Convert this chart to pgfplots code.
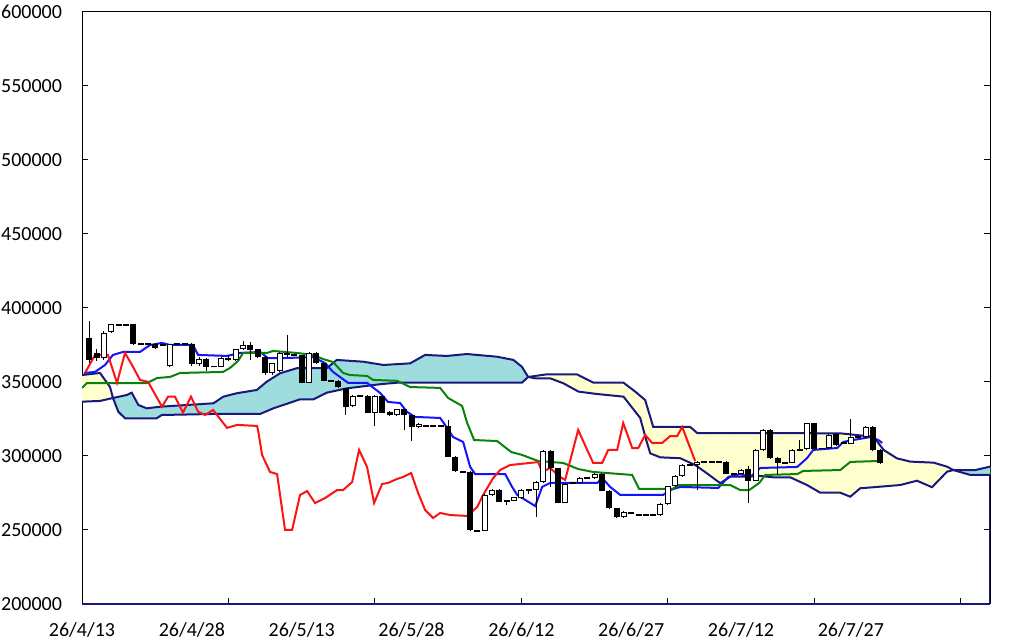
\documentclass[border=0pt]{standalone}
\usepackage{fontspec}
\setmainfont{Carlito}
\usepackage{pgfplots}
\usepackage{pgfplotstable}
\pgfplotsset{compat=1.18}
\usepgfplotslibrary{fillbetween}
\usetikzlibrary{patterns}

\definecolor{cloudY}{RGB}{255,255,204}
\definecolor{cloudT}{RGB}{158,220,222}
\definecolor{navyL}{RGB}{25,25,125}
\definecolor{tenkan}{RGB}{20,20,250}
\definecolor{kijun}{RGB}{10,130,10}
\definecolor{chikou}{RGB}{250,20,20}

\pgfplotstableread{
X O H L C
3 366200 384500 365000 383000
4 383800 389500 383000 389000
12 360800 376000 360000 375500
16 362000 367000 361000 365400
19 360400 367000 360000 366500
21 365000 372500 364500 372000
22 372000 377500 371500 375000
26 355800 363000 355000 362600
27 357600 370000 357000 369400
31 349500 370500 349000 369800
37 333800 341000 333000 340500
40 329300 341000 320000 340500
43 327700 332000 327000 331600
46 319400 322000 319000 321600
55 249500 274000 249000 273700
56 273700 277500 273000 277000
59 269800 272500 269500 272100
60 271400 277500 271000 277000
62 277000 283000 259000 282600
63 282600 304000 282000 303600
66 268400 281500 268000 281100
68 282000 285500 281500 285000
70 285000 288200 284500 287800
74 258600 262800 258200 262400
79 260000 268000 259500 267600
80 267600 280000 267200 279700
81 279700 287000 279300 286500
82 286500 294300 286000 293900
84 294000 296500 277000 296000
90 288000 291000 287500 290500
92 283300 304500 283000 304000
93 304000 318000 303500 317600
97 295500 304500 295000 304000
99 304500 322500 304000 322000
102 305200 314700 304800 314200
105 308300 324800 308000 312700
107 312700 320300 312300 319800
}\upc

\pgfplotstableread{
X O H L C
1 379900 391000 363000 364900
2 369500 372000 364500 366000
5 389100 389100 387900 387900
6 389100 389100 387900 387900
7 389000 389500 375000 375500
8 376100 376100 374900 374900
9 376100 376100 374900 374900
10 375600 376500 372500 372800
11 375600 375600 374400 374400
13 376100 376100 374900 374900
14 376100 376100 374900 374900
15 375500 376500 361000 362000
17 365400 366000 357400 360400
18 361000 361000 359800 359800
20 366500 368000 364500 365000
23 375000 377000 365000 371600
24 372000 372500 366500 367000
25 367000 367500 355000 355800
28 369400 382000 367000 368000
29 368600 368600 367400 367400
30 368200 368500 349000 349500
32 369800 370200 362000 362600
33 362600 363000 350500 350900
34 351500 351500 350300 350300
35 350900 351300 346000 346400
36 345700 346000 327700 333300
38 341100 341100 339900 339900
39 340500 341000 329000 329300
41 340500 341000 329000 329300
42 330000 330500 327300 327700
44 331600 332000 317600 327700
45 327700 328000 310300 319400
47 320900 320900 319700 319700
48 320900 320900 319700 319700
49 320900 320900 319700 319700
50 320300 324000 299000 299500
51 299500 300000 289500 290000
52 290000 290000 288800 288800
53 289400 289800 249500 250000
54 250100 250100 248900 248900
57 277000 277500 268700 269100
58 270400 270400 267000 269200
61 277600 277600 274000 276400
64 303600 304000 279300 291700
65 291700 292000 268000 268400
67 282100 282100 280900 280900
69 285600 285600 284400 284400
71 287800 288200 276200 276600
72 276600 277000 264300 264700
73 264700 265000 258200 258600
75 262300 262300 261100 261100
76 260600 260600 259400 259400
77 260600 260600 259400 259400
78 260600 260600 259400 259400
83 294600 294600 293400 293400
85 296600 296600 295400 295400
86 296600 296600 295400 295400
87 296600 296600 295400 295400
88 296000 296500 287500 287800
89 288600 288600 287400 287400
91 291000 293000 268500 283300
94 317600 318000 298000 298500
95 298500 299000 287000 295500
96 296100 296100 294900 294900
98 304600 311000 303400 303400
100 322000 322500 304000 304500
101 305600 305600 304400 304400
103 314900 315300 307000 307400
104 309200 309200 308000 308000
106 313300 313300 312100 312100
108 319800 320200 303600 304000
109 304000 304400 294600 295000
}\downc

\pgfplotstableread{
X P
0 354700
2.46 356100
3.83 346600
4.23 339200
6.11 341200
6.79 342800
7.69 334500
8.84 332200
10.66 333300
17.94 335600
19.30 340100
21.13 342400
23.87 344600
25.23 350200
27.05 355900
29.33 359300
33.43 359300
34.79 364900
38.43 363700
41.16 361500
44.81 362600
46.86 368300
49.82 367600
52.55 368900
53.92 368300
56.65 367100
58.92 364900
60.07 360300
60.93 353400
63.48 355200
67.58 355200
69.85 349500
73.95 349500
75.55 343500
76.91 337800
78.01 319600
83.06 319600
84.02 315500
92.62 315500
103.55 315300
108.10 313000
109.47 304100
111.30 298400
113.11 296200
116.30 295500
118.13 292800
118.99 290500
121.99 290500
124 292800
}\spanT

\pgfplotstableread{
X P
0 336700
2.46 337200
4.23 339200
4.96 329900
5.87 325500
10.20 325500
10.89 327700
17.94 328400
24.32 328400
26.13 332200
29.78 338300
31.60 338300
33.43 342800
36.16 345700
40.71 348500
42.99 349500
60.07 349500
60.93 353400
61.89 352500
63.93 352500
65.75 349100
67.80 343500
70.31 341900
73.95 340100
76.23 325700
77.05 310800
77.60 301800
78.96 299100
81.69 298500
83.74 293900
85.34 288300
87.16 281600
88.52 286000
89.89 286000
92.62 286500
94.44 285600
96.72 285600
99.00 280400
100.82 275200
103.55 275200
104.92 272500
106.28 278200
108.10 278900
111.75 280400
114.03 283300
116.08 278900
118.13 289400
118.99 290500
121.31 287200
124 287200
}\spanB

\pgfplotstableread{
X P
0.27 356100
1.78 356800
3.14 361500
4.23 368300
5.60 370300
7.92 370300
9.29 375000
10.93 376400
12.02 375000
15.16 375000
15.85 368300
19.81 367600
21.58 369600
24.32 370300
25.41 366100
27.05 366100
31.56 366800
33.20 362800
34.29 356800
36.34 349400
38.93 349400
40.71 342600
41.80 336500
43.44 335800
44.40 329700
45.49 326400
48.91 325700
49.59 321000
50.68 312800
52.05 309500
53.01 292600
53.69 287800
57.79 287800
58.74 279100
59.43 273700
61.89 266200
62.84 279100
63.93 281800
70.36 281800
71.04 285100
72.13 279100
73.50 273700
79.37 273700
80.33 277000
81.69 279100
86.89 278400
88.25 285800
89.89 287800
91.26 285800
92.62 291900
97.68 292600
99.04 298700
99.86 304100
103.14 305400
103.96 309500
105.33 310800
107.65 312800
108.74 310800
109.29 308800
}\tenkanT

\pgfplotstableread{
X P
0 346000
0.68 349300
8.88 349300
10.25 352700
12.02 353400
13.39 356100
19.26 356800
20.22 359500
21.31 364200
22.00 369600
25.27 369600
26.09 371000
29.37 369600
31.56 368300
32.92 365500
34.29 363500
35.66 356100
36.61 354700
38.93 354100
39.75 351400
43.03 350800
44.81 346600
48.91 346000
50.00 339200
51.91 333800
52.60 322300
53.55 310800
56.69 310100
58.61 302700
60.11 300700
62.30 296600
65.71 295300
67.76 291200
69.81 289200
75.14 287200
76.09 277700
80.60 277700
81.56 280400
88.52 280400
89.89 277000
91.12 277000
92.49 281800
93.31 287200
97.68 287800
98.50 289900
103.55 290500
104.92 296000
108.74 296600
}\kijunT

\pgfplotstableread{
X P
0.41 356100
1.78 368300
2.19 368300
3.55 368300
4.78 349400
5.87 369600
6.83 361500
7.92 351400
9.02 350100
10.93 333300
11.75 340100
12.70 340100
13.80 329300
14.89 340100
15.85 330000
16.80 327700
17.90 331100
19.81 319000
21.17 321000
23.91 320300
24.04 317600
24.59 300700
25.68 289200
26.64 287800
27.73 250000
28.69 250000
29.78 273700
30.74 276300
31.83 268200
33.20 271600
34.84 277000
35.66 277000
36.89 282400
37.84 304100
38.93 292600
39.89 268200
40.98 281100
41.80 281800
43.03 284500
43.85 285800
44.95 288500
45.90 275000
46.86 263500
47.95 258100
48.91 261500
50.27 260100
52.60 259500
53.96 265500
54.78 273700
56.15 285100
57.10 290500
58.47 293900
62.30 295900
62.84 289200
63.93 291900
65.30 285800
65.98 283800
67.76 317600
68.99 304100
69.81 295300
71.04 295300
71.86 304100
73.09 304100
73.91 322300
75.14 305400
75.96 305400
76.91 314200
77.87 308800
79.23 308800
80.33 313500
81.28 313500
81.97 319600
82.79 308800
83.74 296600
}\chikouT

\pgfplotsset{
  candlebar/.style 2 args={draw=none, mark=none, forget plot,
    error bars/.cd, y dir=plus, y explicit, error mark=none,
    error bar style={draw=#1, solid, line width=#2}},
}

\begin{document}
\begin{tikzpicture}
\begin{axis}[
  name=ax,
  at={(41pt,19pt)}, anchor=south west,
  scale only axis, width=454pt, height=296pt,
  xmin=0, xmax=124, ymin=200000, ymax=600000,
  axis line style={black, line width=0.5pt},
  tick style={black, line width=0.5pt},
  tick align=inside, major tick length=3pt,
  tick label style={font=\fontsize{10}{12}\selectfont, text=black},
  xtick={20,40,60,80,100,120}, xticklabels={},
  xtick pos=left,
  extra x ticks={0,15,30,45,60,75,90,105},
  extra x tick labels={26/4/13,26/4/28,26/5/13,26/5/28,26/6/12,26/6/27,26/7/12,26/7/27},
  extra x tick style={major tick length=0pt, xticklabel style={yshift=-6pt}},
  ytick={200000,250000,300000,350000,400000,450000,500000,550000,600000},
  yticklabels={200000,250000,300000,350000,400000,450000,500000,550000,600000},
  ytick pos=both, yticklabel pos=left,
  yticklabel style={xshift=-6.5pt},
  scaled y ticks=false,
]
\addplot[draw=none, name path=T] table[x=X, y=P] \spanT;
\addplot[draw=none, name path=B] table[x=X, y=P] \spanB;
\addplot[fill=cloudY, postaction={pattern=dots, pattern color=white}] fill between[of=T and B];
\addplot[fill=cloudT] fill between[of=T and B, soft clip={domain=4.23:60.93}];
\addplot[fill=cloudT] fill between[of=T and B, soft clip={domain=118.99:124}];
\addplot[navyL, line width=1pt] table[x=X, y=P] \spanT;
\addplot[navyL, line width=1pt] table[x=X, y=P] \spanB;
\addplot[navyL, line width=1.2pt] coordinates {(124,287200) (124,200000)};

\addplot[tenkan, line width=1pt] table[x=X, y=P] \tenkanT;
\addplot[kijun, line width=1pt] table[x=X, y=P] \kijunT;
\addplot[chikou, line width=1pt] table[x=X, y=P] \chikouT;

% wicks
\addplot[candlebar={black}{0.5pt}]
  table[x=X, y=L, y error plus expr=\thisrow{H}-\thisrow{L}] \downc;
\addplot[candlebar={black}{0.5pt}]
  table[x=X, y=L, y error plus expr=\thisrow{H}-\thisrow{L}] \upc;
% bodies
\addplot[candlebar={black}{3pt}]
  table[x=X, y=C, y error plus expr=\thisrow{O}-\thisrow{C}] \downc;
\addplot[candlebar={black}{3pt}]
  table[x=X, y=O, y error plus expr=\thisrow{C}-\thisrow{O}] \upc;
\addplot[candlebar={white}{2pt}]
  table[x=X, y expr=\thisrow{O}+680, y error plus expr=\thisrow{C}-\thisrow{O}-1360] \upc;
\end{axis}
\draw[navyL, line width=1pt] (ax.south west) -- (ax.south east);
\pgfresetboundingbox
\path[use as bounding box] (0,0) rectangle (512pt,321pt);
\end{tikzpicture}
\end{document}
